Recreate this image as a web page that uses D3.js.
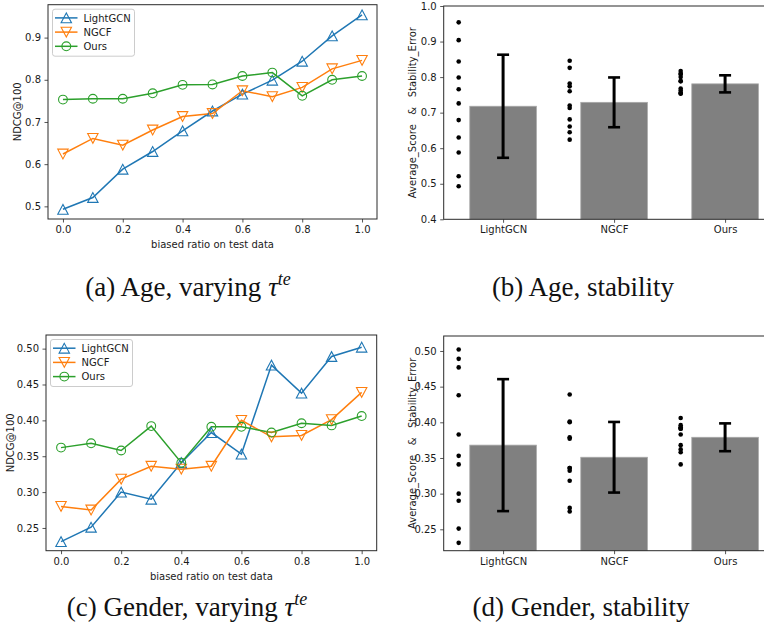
<!DOCTYPE html>
<html><head><meta charset="utf-8">
<script src="https://cdn.jsdelivr.net/npm/d3@7"></script>
<style>
html,body{margin:0;padding:0;background:#fff;}
svg{display:block;}
text{font-family:"DejaVu Sans",sans-serif;fill:#1a1a1a;}
.cap{font-family:"Liberation Serif","Times New Roman",serif;fill:#111;}
</style></head>
<body>
<svg id="chart" width="764" height="633"></svg>
<script>
// ---------- data ----------
const biasRatios = [0.0,0.1,0.2,0.3,0.4,0.5,0.6,0.7,0.8,0.9,1.0];
const methods = ["LightGCN","NGCF","Ours"];
const seriesColors = ["#1f77b4","#ff7f0e","#2ca02c"];
const seriesMarkers = ["triUp","triDown","circle"];

const ageLightGCN = [0.493,0.521,0.588,0.630,0.679,0.726,0.766,0.799,0.844,0.904,0.954];
const ageNGCF     = [0.624,0.661,0.645,0.681,0.713,0.720,0.774,0.760,0.782,0.826,0.846];
const ageOurs     = [0.753,0.755,0.755,0.768,0.788,0.789,0.809,0.817,0.762,0.800,0.809];

const genderLightGCN = [0.231,0.251,0.300,0.290,0.341,0.383,0.353,0.477,0.438,0.489,0.502];
const genderNGCF     = [0.280,0.275,0.318,0.336,0.332,0.336,0.400,0.377,0.379,0.401,0.439];
const genderOurs     = [0.362,0.368,0.358,0.392,0.341,0.391,0.391,0.383,0.396,0.393,0.406];

const ageMeans  = [0.718,0.729,0.781];
const ageErrors = [0.145,0.070,0.024];
const genderMeans  = [0.368,0.351,0.379];
const genderErrors = [0.0925,0.0495,0.0195];

const xTicksLine = [0.0,0.2,0.4,0.6,0.8,1.0];
const ageYTicks = [0.5,0.6,0.7,0.8,0.9];
const ageBarYTicks = [0.4,0.5,0.6,0.7,0.8,0.9,1.0];
const genderYTicks = [0.25,0.30,0.35,0.40,0.45,0.50];

const captions = [
  {main:"(a) Age, varying ", tau:true},
  {main:"(b) Age, stability", tau:false},
  {main:"(c) Gender, varying ", tau:true},
  {main:"(d) Gender, stability", tau:false}
];

// ---------- drawing ----------
const svg = d3.select("#chart");
const AX = "#2a2a2a";

function styleAxis(g){
  g.select(".domain").remove();
  g.selectAll(".tick line").attr("stroke",AX).attr("stroke-width",0.8);
  g.selectAll(".tick text").attr("font-size",10).attr("fill","#1a1a1a");
}
function frame(g,l,r,t,b){
  g.append("rect").attr("x",l).attr("y",t).attr("width",r-l).attr("height",b-t)
   .attr("fill","none").attr("stroke",AX).attr("stroke-width",1);
}
function marker(g,type,x,y,color){
  if(type==="circle"){
    g.append("circle").attr("cx",x).attr("cy",y).attr("r",4.4)
      .attr("fill","none").attr("stroke",color).attr("stroke-width",1.1);
  } else {
    const w=5.2,h=4.9, s = type==="triUp"?1:-1;
    g.append("path").attr("d",`M${x},${y-s*h}L${x-w},${y+s*h}L${x+w},${y+s*h}Z`)
      .attr("fill","none").attr("stroke",color).attr("stroke-width",1.1);
  }
}

function linePanel(cfg){
  const {l,r,t,b,yDomain,yTicks,yFmt,series,ylabelX} = cfg;
  const g = svg.append("g");
  const x = d3.scaleLinear().domain([-0.05,1.05]).range([l,r]);
  const y = d3.scaleLinear().domain(yDomain).range([b,t]);
  const line = d3.line().x((d,i)=>x(biasRatios[i])).y(d=>y(d));
  series.forEach((vals,k)=>{
    g.append("path").datum(vals).attr("d",line).attr("fill","none")
      .attr("stroke",seriesColors[k]).attr("stroke-width",1.5);
  });
  series.forEach((vals,k)=>{
    vals.forEach((v,i)=>marker(g,seriesMarkers[k],x(biasRatios[i]),y(v),seriesColors[k]));
  });
  frame(g,l,r,t,b);
  const gx = g.append("g").attr("transform",`translate(0,${b})`)
    .call(d3.axisBottom(x).tickValues(xTicksLine).tickFormat(d3.format(".1f")).tickSizeOuter(0).tickSize(3.5).tickPadding(3.5));
  styleAxis(gx);
  const gy = g.append("g").attr("transform",`translate(${l},0)`)
    .call(d3.axisLeft(y).tickValues(yTicks).tickFormat(d3.format(yFmt)).tickSizeOuter(0).tickSize(3.5).tickPadding(3.5));
  styleAxis(gy);
  g.append("text").attr("x",(l+r)/2).attr("y",b+29).attr("text-anchor","middle")
    .attr("font-size",10).text("biased ratio on test data");
  g.append("text").attr("transform",`translate(${ylabelX},${(t+b)/2}) rotate(-90)`)
    .attr("text-anchor","middle").attr("font-size",10).text("NDCG@100");
  // legend
  const lx = l+4.5, ly = t+4.5;
  g.append("rect").attr("x",lx).attr("y",ly).attr("width",82).attr("height",47)
    .attr("rx",2.5).attr("fill","#fff").attr("fill-opacity",0.8)
    .attr("stroke","#cccccc").attr("stroke-width",1);
  methods.forEach((m,k)=>{
    const yy = ly + 8.7 + k*14.2;
    g.append("line").attr("x1",lx+2.5).attr("x2",lx+25).attr("y1",yy).attr("y2",yy)
      .attr("stroke",seriesColors[k]).attr("stroke-width",1.5);
    marker(g,seriesMarkers[k],lx+13.8,yy,seriesColors[k]);
    g.append("text").attr("x",lx+31).attr("y",yy+3.6).attr("font-size",10).text(m);
  });
}

function barPanel(cfg){
  const {l,t,b,yDomain,yTicks,yFmt,means,errors,points} = cfg;
  const g = svg.append("g");
  const x = d3.scaleLinear().domain([-0.535,2.435]).range([l,l+(2.435+0.535)*111]);
  const r = x(2.435);
  const y = d3.scaleLinear().domain(yDomain).range([b,t]);
  const clipId = "clip"+Math.round(t);
  svg.append("clipPath").attr("id",clipId).append("rect")
    .attr("x",l).attr("y",t).attr("width",r-l).attr("height",b-t);
  const inner = g.append("g").attr("clip-path",`url(#${clipId})`);
  methods.forEach((m,i)=>{
    inner.append("rect").attr("x",x(i-0.3)).attr("width",x(i+0.3)-x(i-0.3))
      .attr("y",y(means[i])).attr("height",b-y(means[i])+2)
      .attr("fill","#808080").attr("stroke","#a8a8a8").attr("stroke-width",0.8);
  });
  methods.forEach((m,i)=>{
    points[i].forEach(v=>{
      inner.append("circle").attr("cx",x(i-0.4)).attr("cy",y(v)).attr("r",2.3).attr("fill","#000");
    });
  });
  methods.forEach((m,i)=>{
    const cx = x(i), y1 = y(means[i]-errors[i]), y2 = y(means[i]+errors[i]);
    g.append("line").attr("x1",cx).attr("x2",cx).attr("y1",y1).attr("y2",y2)
      .attr("stroke","#000").attr("stroke-width",3);
    [y1,y2].forEach(yy=>g.append("line").attr("x1",cx-6).attr("x2",cx+6).attr("y1",yy).attr("y2",yy)
      .attr("stroke","#000").attr("stroke-width",2.6));
  });
  frame(g,l,r,t,b);
  const gx = g.append("g").attr("transform",`translate(0,${b})`)
    .call(d3.axisBottom(x).tickValues([0,1,2]).tickFormat(i=>methods[i]).tickSizeOuter(0).tickSize(3.5).tickPadding(3.5));
  styleAxis(gx);
  const gy = g.append("g").attr("transform",`translate(${l},0)`)
    .call(d3.axisLeft(y).tickValues(yTicks).tickFormat(d3.format(yFmt)).tickSizeOuter(0).tickSize(3.5).tickPadding(3.5));
  styleAxis(gy);
  g.append("text").attr("transform",`translate(415.5,${(t+b)/2}) rotate(-90)`)
    .attr("text-anchor","middle").attr("font-size",10).style("white-space","pre")
    .text("Average_Score   &   Stability_Error");
}

linePanel({l:48,r:377,t:4.7,b:219,yDomain:[0.470,0.978],yTicks:ageYTicks,yFmt:".1f",
  series:[ageLightGCN,ageNGCF,ageOurs],ylabelX:20.5});
barPanel({l:443.7,t:6,b:219.3,yDomain:[0.4,1.0],yTicks:ageBarYTicks,yFmt:".1f",
  means:ageMeans,errors:ageErrors,points:[ageLightGCN,ageNGCF,ageOurs]});
linePanel({l:46,r:376.7,t:335,b:550.7,yDomain:[0.2183,0.519],yTicks:genderYTicks,yFmt:".2f",
  series:[genderLightGCN,genderNGCF,genderOurs],ylabelX:13.5});
barPanel({l:443.7,t:336,b:550.7,yDomain:[0.22,0.521],yTicks:genderYTicks,yFmt:".2f",
  means:genderMeans,errors:genderErrors,points:[genderLightGCN,genderNGCF,genderOurs]});

// captions
const capPos = [[188,296],[583,296],[187,616],[581,616]];
captions.forEach((c,i)=>{
  const t = svg.append("text").attr("class","cap").attr("x",capPos[i][0]).attr("y",capPos[i][1])
    .attr("text-anchor","middle").attr("font-size",27).style("white-space","pre");
  t.append("tspan").text(c.main);
  if(c.tau){
    t.append("tspan").attr("font-style","italic").text("τ");
    t.append("tspan").attr("font-style","italic").attr("font-size",18).attr("dy",-11).text("te");
  }
});
</script>
</body></html>
